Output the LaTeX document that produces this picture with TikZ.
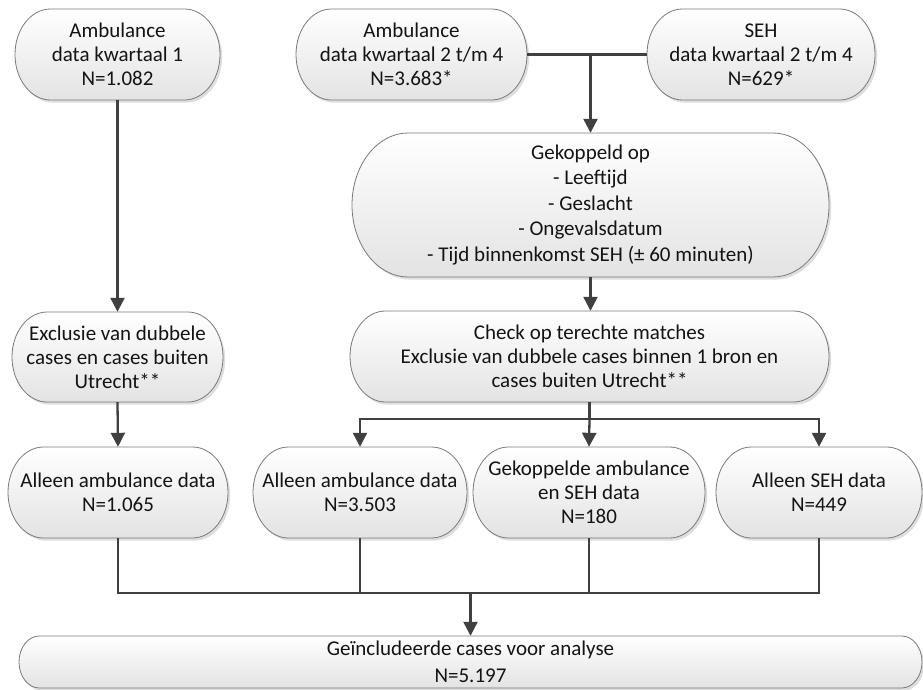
\documentclass[tikz,border=0pt]{standalone}
\usepackage{fontspec}
\setmainfont{Carlito}
\usetikzlibrary{arrows.meta}
\definecolor{lnc}{HTML}{404040}
\definecolor{bdc}{HTML}{7A7A7A}
\tikzset{
  txt/.style={rectangle, inner sep=0pt, align=center, text=black!92},
  conn/.style={draw=lnc, line width=2.3pt},
  arr/.style={conn, -{Triangle[length=14pt,width=14pt]}},
}
% #1 baselineskip, #2 name, #3 x1, #4 y1, #5 x2, #6 y2, #7 text
\newcommand\tbox[7][24]{%
  \pgfmathsetmacro\hh{(#6-#4)/2}%
  \pgfmathsetmacro\rr{0.78*\hh}%
  \fill[black!13, shift={(2.2,-2.6)}] (#3+\rr,-#4) -- (#5-\rr,-#4)
     arc[start angle=90,end angle=-90,x radius=\rr,y radius=\hh] -- (#3+\rr,-#6)
     arc[start angle=270,end angle=90,x radius=\rr,y radius=\hh] -- cycle;
  \shade[top color=white, bottom color=black!11, draw=bdc, line width=0.8pt]
     (#3+\rr,-#4) -- (#5-\rr,-#4)
     arc[start angle=90,end angle=-90,x radius=\rr,y radius=\hh] -- (#3+\rr,-#6)
     arc[start angle=270,end angle=90,x radius=\rr,y radius=\hh] -- cycle;
  \node[txt, font=\fontsize{21}{#1}\selectfont,
        minimum width={(#5-#3)*1pt}, minimum height={(#6-#4)*1pt}]
        (#2) at ({(#3+#5)/2},{-(#4+#6)/2}) {#7};%
}
\begin{document}
\begin{tikzpicture}[x=1pt,y=1pt]
\useasboundingbox (0,0) rectangle (923,-690);
\fill[white] (0,0) rectangle (923,-690);

\tbox{A1}{15}{9}{220}{100}{Ambulance\\data kwartaal 1\\N=1.082}
\tbox{A2}{296}{9}{527}{100}{Ambulance\\data kwartaal 2 t/m 4\\N=3.683*}
\tbox{S}{647}{9}{875}{100}{SEH\\data kwartaal 2 t/m 4\\N=629*}
\tbox[25.5]{G}{352}{133}{829}{277}{Gekoppeld op\\- Leeftijd\\- Geslacht\\- Ongevalsdatum\\- Tijd binnenkomst SEH (± 60 minuten)}
\tbox{E}{12}{312}{223}{402}{Exclusie van dubbele\\cases en cases buiten\\Utrecht**}
\tbox{C}{350}{311}{829}{402}{Check op terechte matches\\Exclusie van dubbele cases binnen 1 bron en\\cases buiten Utrecht**}
\tbox{B1}{8}{447}{228}{538}{Alleen ambulance data\\N=1.065}
\tbox{B2}{253}{447}{467}{538}{Alleen ambulance data\\N=3.503}
\tbox{B3}{473}{447}{705}{538}{Gekoppelde ambulance\\en SEH data\\N=180}
\tbox{B4}{716}{447}{922}{538}{Alleen SEH data\\N=449}
\tbox[27]{F}{19}{636}{922}{688}{Geïncludeerde cases voor analyse\\N=5.197}

% left column
\draw[arr] (A1.south) -- (E.north);
\draw[arr] (E.south) -- (B1.north);

% merge of the two sources
\draw[conn] (A2.east) -- (S.west);
\draw[arr] (G.north |- A2.east) -- (G.north);
\draw[arr] (G.south) -- (G.south |- C.north);

% split into three groups
\coordinate (hs) at (0,-419);
\draw[conn] (C.south) -- (C.south |- hs);
\draw[arr] (C.south |- hs) -| (B2.north);
\draw[arr] (C.south |- hs) -| (B4.north);
\draw[arr] (C.south |- hs) -- (B3.north);

% merge into the final box
\coordinate (hb) at (0,-593);
\draw[conn, line join=miter] (B1.south) |- (hb -| B4.south) -- (B4.south);
\draw[conn] (B2.south) -- (B2.south |- hb);
\draw[conn] (B3.south) -- (B3.south |- hb);
\draw[arr] (hb -| F.north) -- (F.north);
\end{tikzpicture}
\end{document}
